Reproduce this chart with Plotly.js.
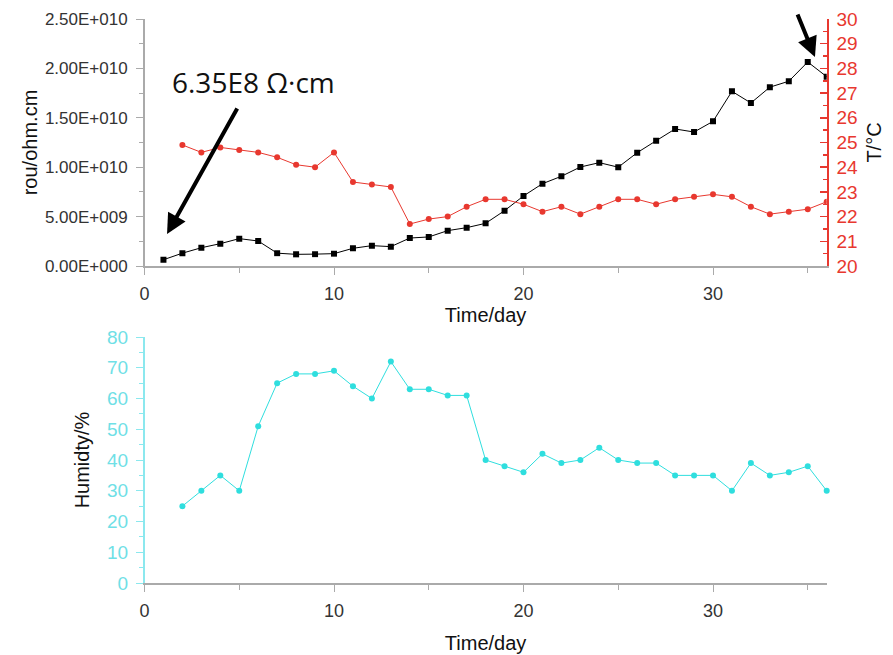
<!DOCTYPE html>
<html>
<head>
<meta charset="utf-8">
<script src="https://cdn.plot.ly/plotly-3.0.1.min.js"></script>
<style>html,body{margin:0;padding:0;background:#fff;}#chart{width:893px;height:655px;}</style>
</head>
<body>
<div id="chart"></div>
<script>
// Data
var daysRou = [1,2,3,4,5,6,7,8,9,10,11,12,13,14,15,16,17,18,19,20,21,22,23,24,25,26,27,28,29,30,31,32,33,34,35,36];
var rou = [6.35e8,1.3e9,1.85e9,2.26e9,2.77e9,2.53e9,1.3e9,1.18e9,1.2e9,1.25e9,1.79e9,2.06e9,1.96e9,2.83e9,2.94e9,3.58e9,3.88e9,4.32e9,5.6e9,7.09e9,8.33e9,9.08e9,1.002e10,1.046e10,1.0e10,1.147e10,1.268e10,1.387e10,1.356e10,1.464e10,1.768e10,1.65e10,1.81e10,1.87e10,2.065e10,1.916e10];
var daysT = [2,3,4,5,6,7,8,9,10,11,12,13,14,15,16,17,18,19,20,21,22,23,24,25,26,27,28,29,30,31,32,33,34,35,36];
var temp = [24.9,24.6,24.8,24.7,24.6,24.4,24.1,24.0,24.6,23.4,23.3,23.2,21.7,21.9,22.0,22.4,22.7,22.7,22.5,22.2,22.4,22.1,22.4,22.7,22.7,22.5,22.7,22.8,22.9,22.8,22.4,22.1,22.2,22.3,22.6];
var daysH = [2,3,4,5,6,7,8,9,10,11,12,13,14,15,16,17,18,19,20,21,22,23,24,25,26,27,28,29,30,31,32,33,34,35,36];
var humidity = [25,30,35,30,51,65,68,68,69,64,60,72,63,63,61,61,40,38,36,42,39,40,44,40,39,39,35,35,35,30,39,35,36,38,30];
var rouTickVals = [0,5e9,1e10,1.5e10,2e10,2.5e10];
var rouTickText = ['0.00E+000','5.00E+009','1.00E+010','1.50E+010','2.00E+010','2.50E+010'];
var tempTicks = [20,21,22,23,24,25,26,27,28,29,30];
var humTicks = [0,10,20,30,40,50,60,70,80];
var dayTicks = [0,10,20,30];

var W = 893, H = 655;
var xd = [144.5/W, 826.7/W];
var topDom = [(H-266)/H, (H-19)/H];
var botDom = [(H-583)/H, (H-337)/H];
var cyan = '#2fdede';
var red = '#e8382f';
var font = 'Liberation Sans, Arial, sans-serif';

var traces = [
  {x: daysRou, y: rou, xaxis:'x', yaxis:'y', mode:'lines+markers', type:'scatter',
   line:{color:'#000', width:1}, marker:{symbol:'square', size:6, color:'#000'}, cliponaxis:true},
  {x: daysT, y: temp, xaxis:'x', yaxis:'y2', mode:'lines+markers', type:'scatter',
   line:{color:red, width:1}, marker:{symbol:'circle', size:6, color:red}},
  {x: daysH, y: humidity, xaxis:'x3', yaxis:'y3', mode:'lines+markers', type:'scatter',
   line:{color:cyan, width:1}, marker:{symbol:'circle', size:6, color:cyan}, cliponaxis:false}
];

var axisGray = '#aaaaaa';
var layout = {
  width: W, height: H,
  margin: {l:0, r:0, t:0, b:0},
  paper_bgcolor:'#fff', plot_bgcolor:'#fff',
  showlegend:false,
  font:{family:font, color:'#333'},
  xaxis: {domain: xd, range:[0,36], anchor:'y', showgrid:false, zeroline:false,
    showline:true, linecolor:axisGray, linewidth:1.5, ticks:'outside', ticklen:7, tickcolor:axisGray,
    tickmode:'array', tickvals: dayTicks, tickfont:{size:18, color:'#333'}, ticklabelstandoff:4,
    minor:{tickmode:'linear', tick0:0, dtick:5, ticks:'outside', ticklen:5, tickcolor:axisGray},
    title:{text:'Time/day', font:{size:20, color:'#111'}, standoff:4}},
  yaxis: {domain: topDom, range:[0,2.5e10], anchor:'x', showgrid:false, zeroline:false,
    showline:true, linecolor:axisGray, linewidth:1.5, ticks:'outside', ticklen:7, tickcolor:axisGray,
    tickmode:'array', tickvals: rouTickVals, ticktext: rouTickText, tickfont:{size:17, color:'#333'}, ticklabelstandoff:5,
    minor:{tickmode:'linear', tick0:0, dtick:2.5e9, ticks:'outside', ticklen:4, tickcolor:axisGray},
    title:{text:'rou/ohm.cm', font:{size:20, color:'#111'}, standoff:2}},
  yaxis2: {overlaying:'y', side:'right', anchor:'x', range:[20,30], showgrid:false, zeroline:false,
    showline:true, linecolor:red, linewidth:2, ticks:'inside', ticklen:7, tickcolor:red, tickwidth:1.5,
    tickmode:'array', tickvals: tempTicks, tickfont:{size:19, color:red}, ticklabelstandoff:4,
    minor:{tickmode:'linear', tick0:20, dtick:0.5, ticks:'inside', ticklen:4, tickcolor:red},
    title:{text:'T/°C', font:{size:20, color:'#111'}, standoff:10}},
  xaxis3: {domain: xd, range:[0,36], anchor:'y3', showgrid:false, zeroline:false,
    showline:true, linecolor:axisGray, linewidth:1.5, ticks:'outside', ticklen:7, tickcolor:axisGray,
    tickmode:'array', tickvals: dayTicks, tickfont:{size:18, color:'#333'}, ticklabelstandoff:4,
    minor:{tickmode:'linear', tick0:0, dtick:5, ticks:'outside', ticklen:5, tickcolor:axisGray},
    title:{text:'Time/day', font:{size:20, color:'#111'}, standoff:16}},
  yaxis3: {domain: botDom, range:[0,80], anchor:'x3', showgrid:false, zeroline:false,
    showline:true, linecolor:'#8be8ee', linewidth:1.5, ticks:'outside', ticklen:7, tickcolor:'#8be8ee',
    tickmode:'array', tickvals: humTicks, tickfont:{size:19, color:'#6fe0e6'}, ticklabelstandoff:4,
    minor:{tickmode:'linear', tick0:0, dtick:5, ticks:'outside', ticklen:4, tickcolor:'#8be8ee'},
    title:{text:'Humidty/%', font:{size:20, color:'#111'}, standoff:12}},
  annotations: [
    {xref:'paper', yref:'paper', x:253/W, y:(H-82)/H, text:'6.35E8 Ω·cm', showarrow:false,
     font:{family:'Open Sans, sans-serif', size:28, color:'#111'}, xanchor:'center', yanchor:'middle'},
    {xref:'x', yref:'y', x:1.19, y:3.24e9, ax:71, ay:-127, axref:'pixel', ayref:'pixel', text:'',
     showarrow:true, arrowhead:2, arrowsize:1, arrowwidth:4, arrowcolor:'#000'},
    {xref:'x', yref:'y', x:35.38, y:2.115e10, ax:-18, ay:-44, axref:'pixel', ayref:'pixel', text:'',
     showarrow:true, arrowhead:2, arrowsize:1, arrowwidth:4, arrowcolor:'#000'}
  ]
};

Plotly.newPlot('chart', traces, layout, {displayModeBar:false, staticPlot:true});
</script>
</body>
</html>
